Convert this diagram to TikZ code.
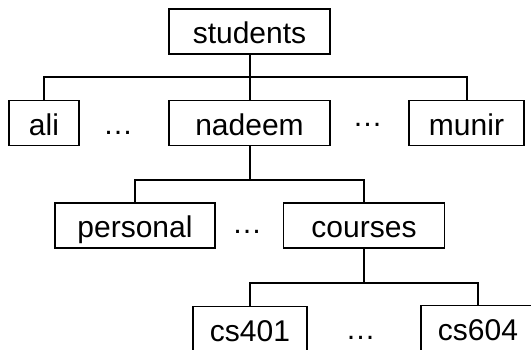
\documentclass[tikz,border=0pt]{standalone}
\usepackage{fontspec}
\setmainfont{Liberation Sans}
\begin{document}
\begin{tikzpicture}[x=1pt,y=-1pt,
  box/.style={draw, line width=1.5pt, minimum height=45pt, inner sep=0pt,
    text height=25pt, text depth=0pt, font=\fontsize{30}{36}\selectfont},
  conn/.style={line width=2pt},
  dots/.style={inner sep=0pt, anchor=base, font=\fontsize{30}{36}\selectfont}]
\useasboundingbox (0,0) rectangle (531,350);
\fill[white] (0,0) rectangle (531,350);
\node[box, minimum width=161pt] (students) at (249.5,31.5) {students};
\node[box, minimum width=70pt] (ali) at (44,123) {ali};
\node[box, minimum width=161pt] (nadeem) at (249.5,123) {nadeem};
\node[box, minimum width=115pt] (munir) at (466.5,123) {munir};
\node[box, minimum width=160pt] (personal) at (135,225.5) {personal};
\node[box, minimum width=161pt] (courses) at (364,225.5) {courses};
\node[box, minimum width=114pt] (cs401) at (250,329) {cs401};
\node[box, minimum width=114pt] (cs604) at (478,328) {cs604};
\node[dots] (d1) at (118,134.5) {…};
\node[dots] (d2) at (367.5,126.5) {…};
\node[dots] (d3) at (247,233.5) {…};
\node[dots] (d4) at (360.5,339.5) {…};
\coordinate (b1) at (249.5,77);
\coordinate (b2) at (249.5,180);
\coordinate (b3) at (364,283);
\draw[conn] (students.south) -- (b1);
\draw[conn] (ali.north) |- (b1) -| (munir.north);
\draw[conn] (b1) -- (nadeem.north);
\draw[conn] (nadeem.south) -- (b2);
\draw[conn] (personal.north) |- (b2) -| (courses.north);
\draw[conn] (courses.south) -- (b3);
\draw[conn] (cs401.north) |- (b3) -| (cs604.north);
\end{tikzpicture}
\end{document}
